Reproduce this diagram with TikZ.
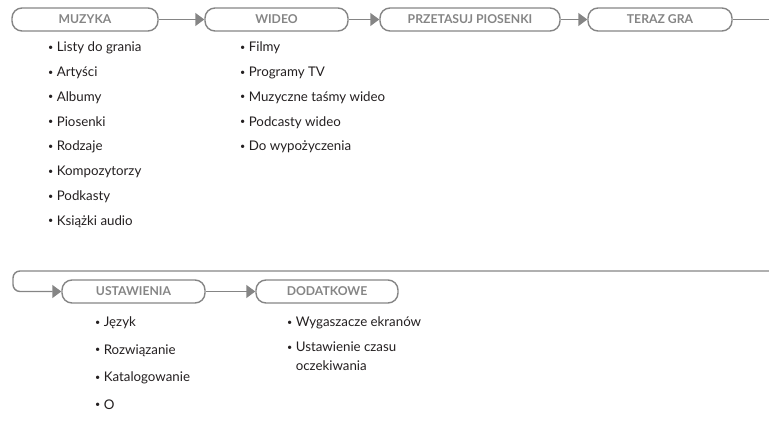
\documentclass[tikz,border=0pt]{standalone}
\usepackage{fontspec}
\setmainfont{Lato}
\usetikzlibrary{matrix,positioning,arrows.meta}
\definecolor{menugray}{HTML}{858585}
\definecolor{itemtext}{HTML}{231F20}
\newcommand{\itm}{{\fontsize{9}{9}\selectfont\raisebox{1.3pt}{\textbullet}}\ }

\begin{document}
\begin{tikzpicture}[x=1pt,y=-1pt,
  menu/.style={draw=menugray, line width=1.4pt, rounded corners=10pt,
               minimum height=23pt, inner sep=0pt, text=menugray,
               font=\bfseries\fontsize{12.2}{14}\selectfont},
  flow/.style={draw=menugray, line width=1.4pt,
               -{Triangle[length=9pt,width=13pt]}},
  items/.style={matrix of nodes, anchor=north west, inner sep=0pt,
                row sep=12.3pt,
                column 1/.style={anchor=base west},
                nodes={inner sep=0pt, text height=9.5pt, text depth=3pt,
                       text=itemtext, font=\fontsize{13.3}{15}\selectfont}}]

  \useasboundingbox (0,0) rectangle (769,435);

  % top row of menus
  \node [menu, minimum width=146pt] (muzyka)  at (85,19.5)    {MUZYKA};
  \node [menu, minimum width=143pt] (wideo)   at (276.5,19.5) {WIDEO};
  \node [menu, minimum width=180pt] (losowo)  at (470,19.5)   {PRZETASUJ PIOSENKI};
  \node [menu, minimum width=144pt] (teraz)   at (660,19.5)   {TERAZ GRA};

  \draw [flow] (muzyka) -- (wideo);
  \draw [flow] (wideo) -- (losowo);
  \draw [flow] (losowo) -- (teraz);

  \coordinate (outR) at (769,19.5);
  \coordinate (inR)  at (769,271);
  \coordinate (turn) at (13,271);
  \draw [draw=menugray, line width=1.4pt] (teraz) -- (outR);

  % second row of menus
  \node [menu, minimum width=143pt] (ustaw)   at (133.5,291.5) {USTAWIENIA};
  \node [menu, minimum width=142pt] (dodatki) at (327,291.5)   {DODATKOWE};

  \draw [flow, rounded corners=7pt] (inR) -- (turn) |- (ustaw);
  \draw [flow] (ustaw) -- (dodatki);

  \matrix (muzykaList) [items] at (48,42)
          {
            \itm Listy do grania \\
            \itm Artyści \\
            \itm Albumy \\
            \itm Piosenki \\
            \itm Rodzaje \\
            \itm Kompozytorzy \\
            \itm Podkasty \\
            \itm Książki audio \\
          };

  \matrix (wideoList) [items] at (240,42)
          {
            \itm Filmy \\
            \itm Programy TV \\
            \itm Muzyczne taśmy wideo \\
            \itm Podcasty wideo \\
            \itm Do wypożyczenia \\
          };

  \matrix (ustawList) [items, row sep=15pt] at (95,317)
          {
            \itm Język \\
            \itm Rozwiązanie \\
            \itm Katalogowanie \\
            \itm O \\
          };

  \matrix (dodatkiList) [items] at (287,317)
          {
            \itm Wygaszacze ekranów \\
            \itm Ustawienie czasu \\[-6pt]
            \phantom{\itm}oczekiwania \\
          };

\end{tikzpicture}
\end{document}
